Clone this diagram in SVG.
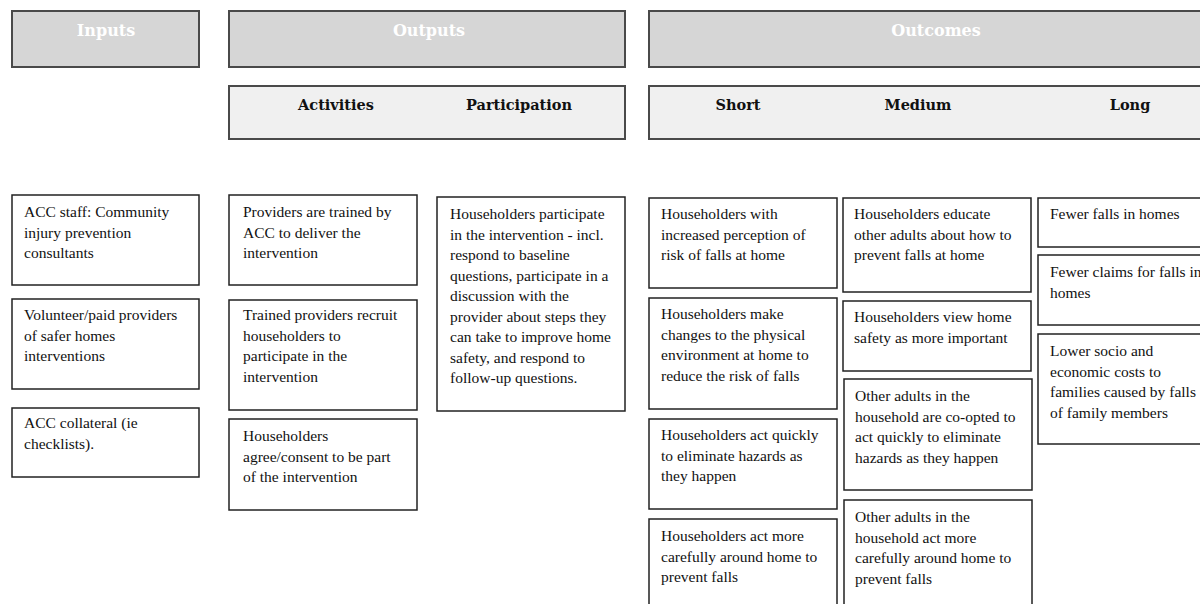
<svg xmlns="http://www.w3.org/2000/svg" width="1200" height="604" viewBox="0 0 1200 604">
<style>
.hdr{fill:#d6d6d6;stroke:#4a4a4a;stroke-width:2}
.sub{fill:#f0f0f0;stroke:#4a4a4a;stroke-width:2}
.box{fill:#fff;stroke:#222;stroke-width:1.5}
.ht{font-family:"DejaVu Serif","Liberation Serif",serif;font-weight:bold;font-size:16px;fill:#fff;text-anchor:middle}
.st{font-family:"DejaVu Serif","Liberation Serif",serif;font-weight:bold;font-size:14.5px;fill:#111;text-anchor:middle}
.t{font-family:"Liberation Serif","Times New Roman",serif;font-size:15.5px;fill:#111}
</style>
<rect width="1200" height="604" fill="#fff"/>
<g id="hdr-inputs"><rect class="hdr" x="12" y="11" width="187" height="56"/><text class="ht" x="106" y="36">Inputs</text></g>
<g id="hdr-outputs"><rect class="hdr" x="229" y="11" width="396" height="56"/><text class="ht" x="429" y="36">Outputs</text></g>
<g id="hdr-outcomes"><rect class="hdr" x="649" y="11" width="570" height="56"/><text class="ht" x="936" y="36">Outcomes</text></g>
<g id="sub-outputs"><rect class="sub" x="229" y="86" width="396" height="53"/><text class="st" x="336" y="110">Activities</text><text class="st" x="519" y="110">Participation</text></g>
<g id="sub-outcomes"><rect class="sub" x="649" y="86" width="570" height="53"/><text class="st" x="738" y="110">Short</text><text class="st" x="918" y="110">Medium</text><text class="st" x="1130" y="110">Long</text></g>

<g id="in1"><rect class="box" x="12" y="195" width="187" height="90"/><text class="t" x="24" y="217"><tspan x="24">ACC staff: Community</tspan><tspan x="24" dy="20.5">injury prevention</tspan><tspan x="24" dy="20.5">consultants</tspan></text></g>
<g id="in2"><rect class="box" x="12" y="299" width="187" height="90"/><text class="t" x="24" y="320"><tspan x="24">Volunteer/paid providers</tspan><tspan x="24" dy="20.5">of safer homes</tspan><tspan x="24" dy="20.5">interventions</tspan></text></g>
<g id="in3"><rect class="box" x="12" y="408" width="187" height="69"/><text class="t" x="24" y="428"><tspan x="24">ACC collateral (ie</tspan><tspan x="24" dy="20.5">checklists).</tspan></text></g>

<g id="act1"><rect class="box" x="229" y="195" width="188" height="90"/><text class="t" x="243" y="217"><tspan x="243">Providers are trained by</tspan><tspan x="243" dy="20.5">ACC to deliver the</tspan><tspan x="243" dy="20.5">intervention</tspan></text></g>
<g id="act2"><rect class="box" x="229" y="300" width="188" height="110"/><text class="t" x="243" y="320"><tspan x="243">Trained providers recruit</tspan><tspan x="243" dy="20.5">householders to</tspan><tspan x="243" dy="20.5">participate in the</tspan><tspan x="243" dy="20.5">intervention</tspan></text></g>
<g id="act3"><rect class="box" x="229" y="419" width="188" height="91"/><text class="t" x="243" y="441"><tspan x="243">Householders</tspan><tspan x="243" dy="20.5">agree/consent to be part</tspan><tspan x="243" dy="20.5">of the intervention</tspan></text></g>

<g id="part1"><rect class="box" x="437" y="197" width="188" height="214"/><text class="t" x="450" y="219"><tspan x="450">Householders participate</tspan><tspan x="450" dy="20.5">in the intervention - incl.</tspan><tspan x="450" dy="20.5">respond to baseline</tspan><tspan x="450" dy="20.5">questions, participate in a</tspan><tspan x="450" dy="20.5">discussion with the</tspan><tspan x="450" dy="20.5">provider about steps they</tspan><tspan x="450" dy="20.5">can take to improve home</tspan><tspan x="450" dy="20.5">safety, and respond to</tspan><tspan x="450" dy="20.5">follow-up questions.</tspan></text></g>

<g id="s1"><rect class="box" x="649" y="198" width="188" height="90"/><text class="t" x="661" y="219"><tspan x="661">Householders with</tspan><tspan x="661" dy="20.5">increased perception of</tspan><tspan x="661" dy="20.5">risk of falls at home</tspan></text></g>
<g id="s2"><rect class="box" x="649" y="298" width="188" height="111"/><text class="t" x="661" y="319"><tspan x="661">Householders make</tspan><tspan x="661" dy="20.5">changes to the physical</tspan><tspan x="661" dy="20.5">environment at home to</tspan><tspan x="661" dy="20.5">reduce the risk of falls</tspan></text></g>
<g id="s3"><rect class="box" x="649" y="419" width="188" height="90"/><text class="t" x="661" y="440"><tspan x="661">Householders act quickly</tspan><tspan x="661" dy="20.5">to eliminate hazards as</tspan><tspan x="661" dy="20.5">they happen</tspan></text></g>
<g id="s4"><rect class="box" x="649" y="519" width="188" height="95"/><text class="t" x="661" y="541"><tspan x="661">Householders act more</tspan><tspan x="661" dy="20.5">carefully around home to</tspan><tspan x="661" dy="20.5">prevent falls</tspan></text></g>

<g id="m1"><rect class="box" x="843" y="198" width="188" height="94"/><text class="t" x="854" y="219"><tspan x="854">Householders educate</tspan><tspan x="854" dy="20.5">other adults about how to</tspan><tspan x="854" dy="20.5">prevent falls at home</tspan></text></g>
<g id="m2"><rect class="box" x="843" y="301" width="188" height="70"/><text class="t" x="854" y="322"><tspan x="854">Householders view home</tspan><tspan x="854" dy="20.5">safety as more important</tspan></text></g>
<g id="m3"><rect class="box" x="844" y="379" width="188" height="111"/><text class="t" x="855" y="401"><tspan x="855">Other adults in the</tspan><tspan x="855" dy="20.5">household are co-opted to</tspan><tspan x="855" dy="20.5">act quickly to eliminate</tspan><tspan x="855" dy="20.5">hazards as they happen</tspan></text></g>
<g id="m4"><rect class="box" x="844" y="500" width="188" height="114"/><text class="t" x="855" y="522"><tspan x="855">Other adults in the</tspan><tspan x="855" dy="20.5">household act more</tspan><tspan x="855" dy="20.5">carefully around home to</tspan><tspan x="855" dy="20.5">prevent falls</tspan></text></g>

<g id="l1"><rect class="box" x="1038" y="198" width="180" height="49"/><text class="t" x="1050" y="219">Fewer falls in homes</text></g>
<g id="l2"><rect class="box" x="1038" y="255" width="180" height="70"/><text class="t" x="1050" y="277"><tspan x="1050">Fewer claims for falls in</tspan><tspan x="1050" dy="20.5">homes</tspan></text></g>
<g id="l3"><rect class="box" x="1038" y="334" width="180" height="110"/><text class="t" x="1050" y="356"><tspan x="1050">Lower socio and</tspan><tspan x="1050" dy="20.5">economic costs to</tspan><tspan x="1050" dy="20.5">families caused by falls</tspan><tspan x="1050" dy="20.5">of family members</tspan></text></g>

<g id="connectors"></g>
</svg>
